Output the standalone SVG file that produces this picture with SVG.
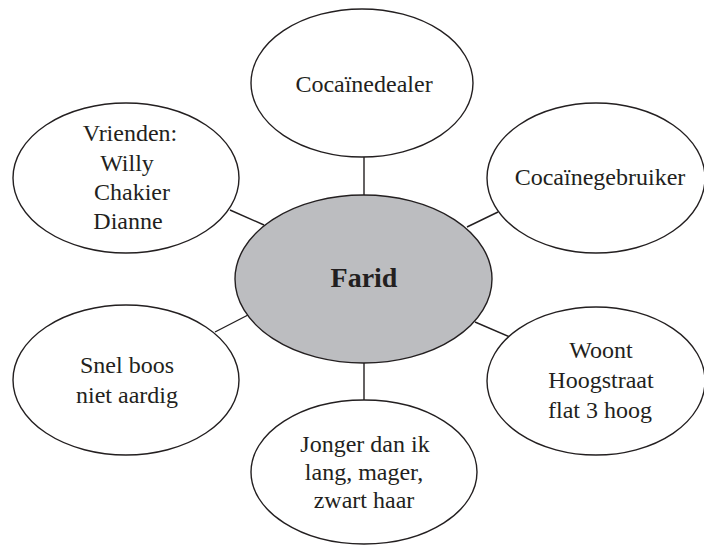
<svg xmlns="http://www.w3.org/2000/svg" width="704" height="547" viewBox="0 0 704 547">
<style>
.n{fill:#fff;stroke:#231f20;stroke-width:1.4}
.c{fill:#bcbdc0;stroke:#231f20;stroke-width:1.4}
.t{font-family:"Liberation Serif",serif;font-size:24px;fill:#231f20;text-anchor:middle}
.b{font-family:"Liberation Serif",serif;font-size:28px;font-weight:bold;fill:#231f20;text-anchor:middle}
.e{stroke:#231f20;stroke-width:1.4;fill:none}
</style>
<rect width="704" height="547" fill="#fff"/>
<g id="connectors">
<line class="e" x1="364" y1="157" x2="364" y2="196"/>
<line class="e" x1="364" y1="362" x2="364" y2="401"/>
<line class="e" x1="230" y1="210" x2="264" y2="225"/>
<line class="e" x1="467" y1="227" x2="498" y2="212"/>
<line class="e" x1="215" y1="332" x2="248" y2="315"/>
<line class="e" x1="475" y1="322" x2="510" y2="337"/>
</g>
<g id="farid">
<ellipse class="c" cx="363.5" cy="279" rx="128.5" ry="84"/>
<text class="b" x="364" y="287">Farid</text>
</g>
<g id="cocainedealer">
<ellipse class="n" cx="362" cy="83" rx="111" ry="74"/>
<text class="t" x="364" y="92">Cocaïnedealer</text>
</g>
<g id="vrienden">
<ellipse class="n" cx="126" cy="178" rx="113" ry="75"/>
<text class="t" x="130" y="141">Vrienden:</text>
<text class="t" x="127" y="171">Willy</text>
<text class="t" x="132" y="200">Chakier</text>
<text class="t" x="128" y="229">Dianne</text>
</g>
<g id="cocainegebruiker">
<ellipse class="n" cx="596" cy="178" rx="109" ry="75"/>
<text class="t" x="600" y="185">Cocaïnegebruiker</text>
</g>
<g id="snelboos">
<ellipse class="n" cx="126" cy="380" rx="113" ry="75"/>
<text class="t" x="127" y="373">Snel boos</text>
<text class="t" x="127" y="403">niet aardig</text>
</g>
<g id="woont">
<ellipse class="n" cx="596" cy="381" rx="109" ry="74"/>
<text class="t" x="601" y="358">Woont</text>
<text class="t" x="601" y="388">Hoogstraat</text>
<text class="t" x="600" y="418">flat 3 hoog</text>
</g>
<g id="jonger">
<ellipse class="n" cx="364" cy="472" rx="113" ry="72"/>
<text class="t" x="365" y="452">Jonger dan ik</text>
<text class="t" x="364" y="480">lang, mager,</text>
<text class="t" x="364" y="508">zwart haar</text>
</g>
</svg>
